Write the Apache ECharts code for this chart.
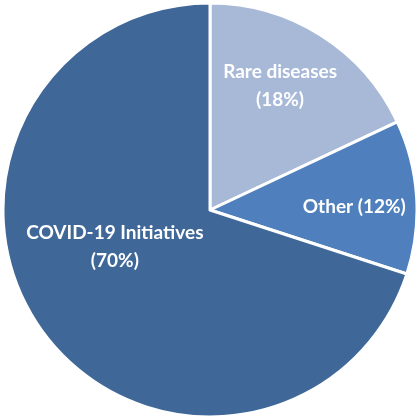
<!DOCTYPE html>
<html>
<head>
<meta charset="utf-8">
<script src="https://cdn.jsdelivr.net/npm/echarts@6/dist/echarts.min.js"></script>
<style>
  html, body { margin: 0; padding: 0; background: #fff; }
  #chart { width: 417px; height: 419px; }
</style>
</head>
<body>
<div id="chart"></div>
<script>
// Funding share by area, clockwise from 12 o'clock
const categories = ['Rare diseases', 'Other', 'COVID-19 Initiatives'];
const shares = [18, 12, 70];
const labelTexts = ['Rare diseases\n({v}%)', 'Other ({v}%)', 'COVID-19 Initiatives\n({v}%)'];

const colors = ['#a8b9d8', '#4f80bd', '#3f6899'];
const labelOffsets = [[13, -34], [38, 4], [-9, -26]];

const data = categories.map((name, i) => ({
  name: name,
  value: shares[i],
  itemStyle: { color: colors[i] },
  label: {
    offset: labelOffsets[i],
    formatter: labelTexts[i].replace('{v}', shares[i])
  }
}));

const chart = echarts.init(document.getElementById('chart'));
chart.setOption({
  animation: false,
  series: [{
    type: 'pie',
    center: [210, 210],
    radius: 207,
    startAngle: 90,
    clockwise: true,
    silent: true,
    itemStyle: { borderColor: '#ffffff', borderWidth: 3 },
    label: {
      show: true,
      position: 'inside',
      color: '#ffffff',
      fontFamily: 'Lato',
      fontWeight: 'bold',
      fontSize: 19,
      lineHeight: 28,
      align: 'center'
    },
    labelLine: { show: false },
    data: data
  }]
});
</script>
</body>
</html>
